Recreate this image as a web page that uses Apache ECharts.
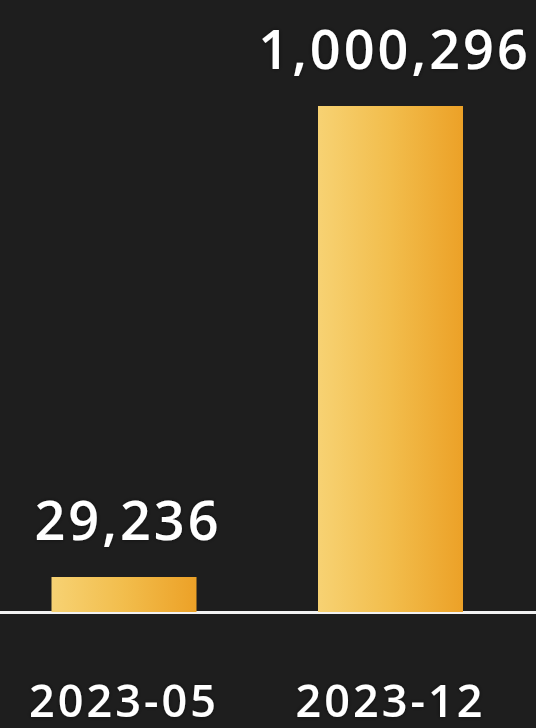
<!DOCTYPE html>
<html>
<head>
<meta charset="utf-8">
<script src="https://cdn.jsdelivr.net/npm/echarts@6/dist/echarts.min.js"></script>
<style>
  html, body { margin: 0; padding: 0; background: #1e1e1e; }
  #chart { width: 536px; height: 728px; }
  /* wider tracking for the big numerals */
  #chart text { letter-spacing: 3px; }
</style>
</head>
<body>
<div id="chart"></div>
<script>
// Monthly totals
const months = ['2023-05', '2023-12'];
const totals = [29236, 1000296];

const chart = echarts.init(document.getElementById('chart'), null, { renderer: 'svg' });

const gold = new echarts.graphic.LinearGradient(0, 0, 1, 0, [
  { offset: 0, color: '#f7d273' },
  { offset: 0.5, color: '#f2bd4c' },
  { offset: 1, color: '#eca127' }
]);

const fontFamily = '"Open Sans", "Noto Sans", sans-serif';

chart.setOption({
  backgroundColor: '#1e1e1e',
  animation: false,
  grid: [
    { left: -9.25, right: 12.25, top: 106, bottom: 116, outerBoundsMode: 'none' },
    // full-width baseline
    { left: 0, right: 0, top: 106, bottom: 116, outerBoundsMode: 'none' }
  ],
  xAxis: [
    {
      type: 'category',
      data: months,
      gridIndex: 0,
      axisLine: { show: false },
      axisTick: { show: false },
      axisLabel: {
        color: '#ffffff',
        fontFamily: fontFamily,
        fontWeight: 600,
        fontSize: 45,
        lineHeight: 36,
        margin: 69,
        textShadowColor: 'rgba(0,0,0,0.5)',
        textShadowBlur: 4
      }
    },
    {
      type: 'value',
      gridIndex: 1,
      min: 0,
      max: 1,
      axisLine: { show: true, onZero: false, lineStyle: { color: '#f2f2f2', width: 3 } },
      axisTick: { show: false },
      axisLabel: { show: false },
      splitLine: { show: false }
    }
  ],
  yAxis: [
    {
      type: 'value',
      gridIndex: 0,
      min: 0,
      max: 'dataMax',
      show: false,
      splitLine: { show: false }
    },
    {
      type: 'value',
      gridIndex: 1,
      min: 0,
      max: 1,
      show: false,
      splitLine: { show: false }
    }
  ],
  series: [
    {
      type: 'bar',
      xAxisIndex: 0,
      yAxisIndex: 0,
      data: totals,
      barWidth: 145,
      barMinHeight: 35,
      itemStyle: { color: gold },
      label: {
        show: true,
        position: 'top',
        distance: 31,
        offset: [4, 0],
        color: '#ffffff',
        fontFamily: fontFamily,
        fontWeight: 600,
        fontSize: 54,
        lineHeight: 54,
        textShadowColor: 'rgba(0,0,0,0.5)',
        textShadowBlur: 4,
        formatter: p => p.value.toLocaleString('en-US')
      }
    }
  ]
});
</script>
</body>
</html>
